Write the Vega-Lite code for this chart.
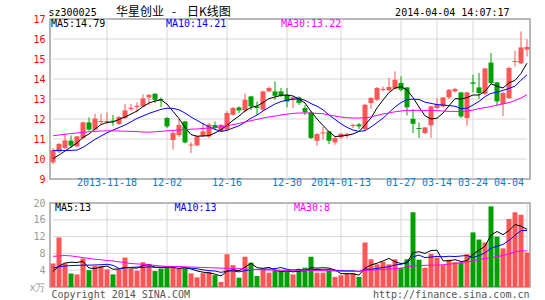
{
"$schema":"https://vega.github.io/schema/vega-lite/v6.json",
"autosize":{"type":"pad"},
"padding":{"left":28,"top":4,"right":4,"bottom":0},
"background":"white",
"bounds":"flush",
"spacing":24,
"data":{"values":[
{"d":"2013-11-05","o":9.83,"h":10.55,"l":9.75,"c":10.45,"v":5.6,"m5":10.02,"m10":10.43,"m30":11.16,"vm5":3.7,"vm10":4.5,"vm30":7.3},
{"d":"2013-11-06","o":10.38,"h":10.8,"l":10.3,"c":10.75,"v":11.8,"m5":10.2,"m10":10.43,"m30":11.2,"vm5":5.0,"vm10":4.8,"vm30":7.4},
{"d":"2013-11-07","o":10.55,"h":11.27,"l":10.5,"c":10.93,"v":5.6,"m5":10.4,"m10":10.43,"m30":11.24,"vm5":5.7,"vm10":5.0,"vm30":7.5},
{"d":"2013-11-08","o":10.92,"h":11.18,"l":10.55,"c":10.67,"v":3.2,"m5":10.6,"m10":10.43,"m30":11.27,"vm5":5.9,"vm10":5.1,"vm30":7.4},
{"d":"2013-11-11","o":10.63,"h":11.15,"l":10.58,"c":11.13,"v":3.0,"m5":10.8,"m10":10.45,"m30":11.3,"vm5":5.84,"vm10":5.15,"vm30":7.2},
{"d":"2013-11-12","o":11.05,"h":11.88,"l":10.98,"c":11.83,"v":6.8,"m5":11.08,"m10":10.58,"m30":11.33,"vm5":6.08,"vm10":5.2,"vm30":7.0},
{"d":"2013-11-13","o":11.83,"h":12.08,"l":11.42,"c":11.47,"v":4.0,"m5":11.25,"m10":10.78,"m30":11.36,"vm5":4.52,"vm10":5.2,"vm30":6.8},
{"d":"2013-11-14","o":11.47,"h":12.26,"l":11.42,"c":12.02,"v":5.0,"m5":11.5,"m10":10.98,"m30":11.38,"vm5":4.4,"vm10":5.25,"vm30":6.6},
{"d":"2013-11-15","o":11.85,"h":12.26,"l":11.75,"c":11.9,"v":5.0,"m5":11.72,"m10":11.15,"m30":11.4,"vm5":4.76,"vm10":5.3,"vm30":6.5},
{"d":"2013-11-18","o":11.85,"h":12.33,"l":11.76,"c":11.9,"v":4.2,"m5":11.83,"m10":11.31,"m30":11.41,"vm5":5.0,"vm10":5.42,"vm30":6.3},
{"d":"2013-11-19","o":11.92,"h":12.2,"l":11.66,"c":11.87,"v":3.0,"m5":11.85,"m10":11.45,"m30":11.41,"vm5":4.24,"vm10":5.16,"vm30":6.2},
{"d":"2013-11-20","o":11.75,"h":12.15,"l":11.7,"c":12.1,"v":4.2,"m5":11.98,"m10":11.57,"m30":11.4,"vm5":4.28,"vm10":4.4,"vm30":6.0},
{"d":"2013-11-21","o":12.05,"h":12.76,"l":12.0,"c":12.43,"v":7.0,"m5":12.1,"m10":11.7,"m30":11.39,"vm5":4.68,"vm10":4.54,"vm30":5.8},
{"d":"2013-11-22","o":12.5,"h":12.76,"l":12.4,"c":12.56,"v":4.4,"m5":12.25,"m10":11.86,"m30":11.38,"vm5":4.56,"vm10":4.66,"vm30":5.6},
{"d":"2013-11-25","o":12.6,"h":12.83,"l":12.33,"c":12.66,"v":3.9,"m5":12.4,"m10":12.03,"m30":11.37,"vm5":4.5,"vm10":4.75,"vm30":5.5},
{"d":"2013-11-26","o":12.63,"h":13.23,"l":12.6,"c":13.03,"v":5.9,"m5":12.62,"m10":12.15,"m30":11.35,"vm5":5.08,"vm10":4.66,"vm30":5.4},
{"d":"2013-11-27","o":13.08,"h":13.22,"l":12.7,"c":13.21,"v":5.5,"m5":12.8,"m10":12.28,"m30":11.34,"vm5":5.34,"vm10":4.81,"vm30":5.25},
{"d":"2013-11-28","o":13.26,"h":13.3,"l":12.8,"c":12.96,"v":3.8,"m5":12.9,"m10":12.38,"m30":11.36,"vm5":4.7,"vm10":4.69,"vm30":5.15},
{"d":"2013-11-29","o":13.0,"h":13.08,"l":12.6,"c":12.95,"v":4.4,"m5":12.96,"m10":12.48,"m30":11.38,"vm5":4.7,"vm10":4.63,"vm30":5.0},
{"d":"2013-12-02","o":12.05,"h":12.1,"l":11.55,"c":11.63,"v":4.7,"m5":12.75,"m10":12.54,"m30":11.41,"vm5":4.86,"vm10":4.68,"vm30":4.9},
{"d":"2013-12-03","o":10.95,"h":11.4,"l":10.47,"c":11.3,"v":4.8,"m5":12.38,"m10":12.53,"m30":11.43,"vm5":4.64,"vm10":4.86,"vm30":4.9},
{"d":"2013-12-04","o":11.2,"h":12.0,"l":11.1,"c":11.7,"v":4.4,"m5":12.02,"m10":12.46,"m30":11.45,"vm5":4.42,"vm10":4.88,"vm30":4.85},
{"d":"2013-12-05","o":11.88,"h":11.9,"l":10.78,"c":10.83,"v":4.4,"m5":11.58,"m10":12.3,"m30":11.47,"vm5":4.54,"vm10":4.62,"vm30":4.8},
{"d":"2013-12-06","o":10.67,"h":10.85,"l":10.3,"c":10.72,"v":3.25,"m5":11.22,"m10":12.1,"m30":11.49,"vm5":4.31,"vm10":4.5,"vm30":4.75},
{"d":"2013-12-09","o":10.68,"h":11.15,"l":10.65,"c":11.13,"v":2.3,"m5":11.14,"m10":11.93,"m30":11.5,"vm5":3.83,"vm10":4.35,"vm30":4.7},
{"d":"2013-12-10","o":11.15,"h":11.83,"l":11.1,"c":11.38,"v":3.3,"m5":11.15,"m10":11.76,"m30":11.53,"vm5":3.53,"vm10":4.09,"vm30":4.65},
{"d":"2013-12-11","o":11.13,"h":11.8,"l":11.05,"c":11.72,"v":3.6,"m5":11.17,"m10":11.6,"m30":11.55,"vm5":3.37,"vm10":3.9,"vm30":4.6},
{"d":"2013-12-12","o":11.7,"h":11.88,"l":11.45,"c":11.55,"v":2.8,"m5":11.3,"m10":11.48,"m30":11.57,"vm5":3.05,"vm10":3.8,"vm30":4.55},
{"d":"2013-12-13","o":11.38,"h":11.75,"l":11.35,"c":11.71,"v":1.2,"m5":11.47,"m10":11.38,"m30":11.62,"vm5":2.64,"vm10":3.48,"vm30":4.5},
{"d":"2013-12-16","o":11.46,"h":12.4,"l":11.42,"c":12.3,"v":7.8,"m5":11.68,"m10":11.43,"m30":11.66,"vm5":3.74,"vm10":3.79,"vm30":4.45},
{"d":"2013-12-17","o":12.21,"h":12.6,"l":12.18,"c":12.55,"v":5.2,"m5":11.93,"m10":11.55,"m30":11.72,"vm5":4.12,"vm10":3.83,"vm30":4.4},
{"d":"2013-12-18","o":12.58,"h":12.63,"l":12.3,"c":12.43,"v":2.2,"m5":12.15,"m10":11.66,"m30":11.78,"vm5":3.84,"vm10":3.6,"vm30":4.35},
{"d":"2013-12-19","o":12.43,"h":13.26,"l":12.33,"c":12.96,"v":7.2,"m5":12.4,"m10":11.84,"m30":11.85,"vm5":4.72,"vm10":3.89,"vm30":4.3},
{"d":"2013-12-20","o":13.13,"h":13.16,"l":12.45,"c":12.63,"v":5.8,"m5":12.58,"m10":12.04,"m30":11.92,"vm5":5.64,"vm10":4.14,"vm30":4.2},
{"d":"2013-12-23","o":12.63,"h":12.88,"l":12.2,"c":12.55,"v":2.6,"m5":12.65,"m10":12.2,"m30":11.98,"vm5":4.6,"vm10":4.17,"vm30":4.15},
{"d":"2013-12-24","o":12.46,"h":13.4,"l":12.4,"c":13.38,"v":4.4,"m5":12.82,"m10":12.4,"m30":12.05,"vm5":4.44,"vm10":4.28,"vm30":4.1},
{"d":"2013-12-25","o":13.38,"h":13.63,"l":13.35,"c":13.55,"v":3.4,"m5":13.02,"m10":12.58,"m30":12.1,"vm5":4.68,"vm10":4.26,"vm30":4.05},
{"d":"2013-12-26","o":13.38,"h":13.88,"l":12.96,"c":13.16,"v":4.0,"m5":13.1,"m10":12.75,"m30":12.15,"vm5":4.04,"vm10":4.38,"vm30":4.0},
{"d":"2013-12-27","o":13.38,"h":13.55,"l":13.1,"c":13.16,"v":3.7,"m5":13.18,"m10":12.87,"m30":12.2,"vm5":3.62,"vm10":4.63,"vm30":4.0},
{"d":"2013-12-30","o":13.21,"h":13.55,"l":12.58,"c":12.88,"v":3.9,"m5":13.2,"m10":12.94,"m30":12.24,"vm5":3.88,"vm10":4.24,"vm30":4.0},
{"d":"2013-12-31","o":12.96,"h":13.1,"l":12.55,"c":13.08,"v":3.0,"m5":13.15,"m10":12.99,"m30":12.28,"vm5":3.6,"vm10":4.02,"vm30":4.0},
{"d":"2014-01-02","o":13.08,"h":13.13,"l":12.7,"c":12.8,"v":4.3,"m5":13.0,"m10":13.01,"m30":12.3,"vm5":3.78,"vm10":4.23,"vm30":4.0},
{"d":"2014-01-03","o":12.55,"h":12.7,"l":12.2,"c":12.33,"v":4.6,"m5":12.8,"m10":12.94,"m30":12.3,"vm5":3.9,"vm10":3.97,"vm30":4.0},
{"d":"2014-01-06","o":12.33,"h":12.4,"l":11.0,"c":11.05,"v":7.2,"m5":12.38,"m10":12.77,"m30":12.3,"vm5":4.6,"vm10":4.11,"vm30":3.95},
{"d":"2014-01-07","o":10.91,"h":11.3,"l":10.66,"c":11.25,"v":3.4,"m5":12.0,"m10":12.64,"m30":12.28,"vm5":4.5,"vm10":4.19,"vm30":3.9},
{"d":"2014-01-08","o":11.28,"h":11.6,"l":10.96,"c":11.33,"v":3.4,"m5":11.68,"m10":12.46,"m30":12.26,"vm5":4.58,"vm10":4.09,"vm30":3.9},
{"d":"2014-01-09","o":11.38,"h":11.41,"l":10.75,"c":10.91,"v":3.9,"m5":11.36,"m10":12.2,"m30":12.2,"vm5":4.5,"vm10":4.14,"vm30":3.85},
{"d":"2014-01-10","o":10.83,"h":11.1,"l":10.71,"c":11.05,"v":2.4,"m5":11.12,"m10":11.98,"m30":12.15,"vm5":4.06,"vm10":3.98,"vm30":3.8},
{"d":"2014-01-13","o":11.08,"h":11.3,"l":11.0,"c":11.26,"v":2.8,"m5":11.15,"m10":11.76,"m30":12.1,"vm5":3.18,"vm10":3.89,"vm30":3.75},
{"d":"2014-01-14","o":11.2,"h":11.33,"l":11.05,"c":11.25,"v":3.3,"m5":11.18,"m10":11.58,"m30":12.06,"vm5":3.16,"vm10":3.83,"vm30":3.7},
{"d":"2014-01-15","o":11.65,"h":11.76,"l":11.55,"c":11.7,"v":3.3,"m5":11.25,"m10":11.45,"m30":12.05,"vm5":3.14,"vm10":3.86,"vm30":3.7},
{"d":"2014-01-16","o":11.73,"h":11.8,"l":11.5,"c":11.63,"v":2.4,"m5":11.38,"m10":11.38,"m30":12.05,"vm5":2.84,"vm10":3.67,"vm30":3.75},
{"d":"2014-01-17","o":11.5,"h":12.75,"l":11.4,"c":12.71,"v":10.6,"m5":11.7,"m10":11.42,"m30":12.06,"vm5":4.48,"vm10":4.27,"vm30":3.9},
{"d":"2014-01-20","o":12.8,"h":13.1,"l":12.5,"c":13.05,"v":6.6,"m5":12.05,"m10":11.6,"m30":12.1,"vm5":5.24,"vm10":4.21,"vm30":4.0},
{"d":"2014-01-21","o":12.96,"h":13.6,"l":12.9,"c":13.55,"v":5.4,"m5":12.55,"m10":11.82,"m30":12.18,"vm5":5.66,"vm10":4.41,"vm30":4.1},
{"d":"2014-01-22","o":13.45,"h":13.63,"l":13.38,"c":13.5,"v":6.0,"m5":12.95,"m10":12.04,"m30":12.25,"vm5":6.2,"vm10":4.67,"vm30":4.2},
{"d":"2014-01-23","o":13.43,"h":14.05,"l":13.4,"c":13.6,"v":5.4,"m5":13.32,"m10":12.32,"m30":12.3,"vm5":6.8,"vm10":4.82,"vm30":4.3},
{"d":"2014-01-24","o":13.51,"h":14.38,"l":13.5,"c":13.96,"v":6.6,"m5":13.55,"m10":12.6,"m30":12.36,"vm5":6.0,"vm10":5.24,"vm30":4.4},
{"d":"2014-01-27","o":13.8,"h":14.13,"l":13.38,"c":13.46,"v":4.5,"m5":13.62,"m10":12.82,"m30":12.4,"vm5":5.58,"vm10":5.41,"vm30":4.5},
{"d":"2014-01-28","o":13.58,"h":13.6,"l":12.18,"c":12.58,"v":6.6,"m5":13.45,"m10":12.97,"m30":12.43,"vm5":5.82,"vm10":5.74,"vm30":4.75},
{"d":"2014-01-29","o":12.01,"h":12.5,"l":11.3,"c":11.76,"v":17.8,"m5":13.07,"m10":12.99,"m30":12.43,"vm5":8.18,"vm10":7.19,"vm30":5.0},
{"d":"2014-01-30","o":11.55,"h":11.83,"l":11.05,"c":11.5,"v":6.5,"m5":12.6,"m10":12.98,"m30":12.43,"vm5":8.4,"vm10":7.6,"vm30":5.1},
{"d":"2014-03-12","o":11.3,"h":11.6,"l":11.25,"c":11.58,"v":4.6,"m5":12.16,"m10":12.84,"m30":12.43,"vm5":8.0,"vm10":7.0,"vm30":5.15},
{"d":"2014-03-13","o":11.68,"h":12.65,"l":11.05,"c":12.63,"v":7.9,"m5":12.0,"m10":12.78,"m30":12.43,"vm5":8.68,"vm10":7.13,"vm30":5.2},
{"d":"2014-03-14","o":12.55,"h":13.05,"l":12.5,"c":12.71,"v":7.0,"m5":12.04,"m10":12.72,"m30":12.42,"vm5":8.76,"vm10":7.29,"vm30":5.2},
{"d":"2014-03-17","o":12.63,"h":13.1,"l":12.6,"c":13.08,"v":5.2,"m5":12.3,"m10":12.7,"m30":12.4,"vm5":6.24,"vm10":7.21,"vm30":5.3},
{"d":"2014-03-18","o":13.08,"h":13.5,"l":13.0,"c":13.46,"v":6.5,"m5":12.66,"m10":12.67,"m30":12.38,"vm5":6.24,"vm10":7.32,"vm30":5.45},
{"d":"2014-03-19","o":13.38,"h":13.55,"l":13.33,"c":13.5,"v":5.9,"m5":13.02,"m10":12.64,"m30":12.38,"vm5":6.5,"vm10":7.25,"vm30":5.6},
{"d":"2014-03-20","o":13.33,"h":13.35,"l":12.05,"c":12.13,"v":5.8,"m5":13.0,"m10":12.52,"m30":12.38,"vm5":6.08,"vm10":7.38,"vm30":5.8},
{"d":"2014-03-21","o":12.05,"h":13.35,"l":11.66,"c":13.33,"v":7.8,"m5":13.07,"m10":12.54,"m30":12.4,"vm5":6.24,"vm10":7.5,"vm30":6.0},
{"d":"2014-03-24","o":13.83,"h":14.21,"l":13.33,"c":13.76,"v":13.0,"m5":13.2,"m10":12.7,"m30":12.45,"vm5":7.8,"vm10":7.02,"vm30":6.2},
{"d":"2014-03-25","o":13.58,"h":14.3,"l":13.0,"c":13.3,"v":11.3,"m5":13.2,"m10":12.88,"m30":12.52,"vm5":8.76,"vm10":7.5,"vm30":6.5},
{"d":"2014-03-26","o":13.26,"h":14.55,"l":13.2,"c":14.53,"v":10.6,"m5":13.38,"m10":13.12,"m30":12.57,"vm5":9.7,"vm10":8.1,"vm30":6.8},
{"d":"2014-03-27","o":14.82,"h":15.3,"l":13.75,"c":13.8,"v":19.2,"m5":13.76,"m10":13.28,"m30":12.62,"vm5":12.38,"vm10":9.23,"vm30":7.0},
{"d":"2014-03-28","o":13.83,"h":13.85,"l":12.63,"c":12.88,"v":12.0,"m5":13.64,"m10":13.34,"m30":12.7,"vm5":13.22,"vm10":9.73,"vm30":7.2},
{"d":"2014-03-31","o":12.75,"h":13.35,"l":12.15,"c":13.3,"v":9.2,"m5":13.55,"m10":13.43,"m30":12.75,"vm5":12.46,"vm10":10.13,"vm30":7.5},
{"d":"2014-04-01","o":13.05,"h":14.62,"l":13.0,"c":14.55,"v":16.2,"m5":13.81,"m10":13.53,"m30":12.82,"vm5":13.44,"vm10":11.1,"vm30":7.9},
{"d":"2014-04-02","o":14.85,"h":15.42,"l":14.63,"c":14.9,"v":17.8,"m5":13.93,"m10":13.64,"m30":12.92,"vm5":14.88,"vm10":12.29,"vm30":8.4},
{"d":"2014-04-03","o":14.78,"h":16.38,"l":14.75,"c":15.58,"v":17.2,"m5":14.28,"m10":13.94,"m30":13.05,"vm5":14.48,"vm10":13.43,"vm30":8.6},
{"d":"2014-04-04","o":15.47,"h":16.0,"l":15.13,"c":15.6,"v":8.2,"m5":14.79,"m10":14.21,"m30":13.22,"vm5":13.72,"vm10":13.47,"vm30":8.6}
]},
"resolve":{"scale":{"color":"independent","y":"independent"},"legend":{"color":"independent"}},
"config":{
 "view":{"stroke":"#a0a0a0","strokeWidth":1.5},
 "axis":{"labelFont":"DejaVu Sans Mono","labelFontSize":10,"titleFont":"DejaVu Sans Mono","titleFontSize":10,"titleFontWeight":"normal","titleColor":"#000000","tickSize":0,"domain":false,"grid":false,"labelOverlap":false},
 "legend":{"labelFont":"DejaVu Sans Mono","labelFontSize":10}
},
"vconcat":[
{
 "width":480,"height":160,
 "title":{"text":"华星创业\u00a0\u00a0\u00a0-\u00a0\u00a0\u00a0\u00a0日K线图","anchor":"start","frame":"group","dx":66,"offset":-23,"baseline":"bottom","font":"Noto Sans CJK SC","fontSize":12,"fontWeight":"normal","color":"#000000"},
 "layer":[
  {"data":{"values":[{"g":10},{"g":11},{"g":12},{"g":13},{"g":14},{"g":15},{"g":16}]},
   "mark":{"type":"rule","color":"#d8d8d8","strokeWidth":1},
   "encoding":{
    "x":{"datum":"2013-11-05","type":"ordinal"},
    "x2":{"datum":"2014-04-04"},
    "y":{"field":"g","type":"quantitative","axis":{"values":[9,10,11,12,13,14,15,16,17],"tickCount":20,"format":"d","labelColor":"#ff0000","labelPadding":5,"labelOverlap":false,"grid":false,
          "title":"sz300025","titleAngle":0,"titleAlign":"left","titleBaseline":"alphabetic","titleX":-2,"titleY":-3.5}}}},
  {"encoding":{
    "x":{"field":"d","type":"ordinal","scale":{"paddingInner":0,"paddingOuter":0},
     "axis":{"values":["2013-11-18","2013-12-02","2013-12-16","2013-12-30","2014-01-13","2014-01-27","2014-03-14","2014-03-24","2014-04-04"],
      "labelExpr":"datum.value == '2013-11-18' || datum.value == '2014-01-13' ? datum.value : substring(datum.value, 5)",
      "labelAngle":0,"labelColor":"#0c7cd0","labelPadding":3.5,"labelOverlap":false,"grid":false,
      "labelAlign":{"condition":{"test":"datum.value == '2014-04-04'","value":"right"},"value":"center"},
      "labelOffset":{"condition":{"test":"datum.value == '2014-04-04'","value":-3},"value":0},
      "title":"2014-04-04 14:07:17","titleX":459,"titleY":-163.5,"titleAlign":"right","titleBaseline":"alphabetic","titleAngle":0}}},
   "layer":[
    {"data":{"values":[{"d":"2013-11-18"},{"d":"2013-12-02"},{"d":"2013-12-16"},{"d":"2013-12-30"},{"d":"2014-01-13"},{"d":"2014-01-27"},{"d":"2014-03-14"},{"d":"2014-03-24"}]},
     "mark":{"type":"rule","color":"#d8d8d8","strokeWidth":1},
     "encoding":{"y":{"datum":9,"type":"quantitative"},"y2":{"datum":17}}},
    {"mark":{"type":"rule","strokeWidth":1},
     "encoding":{
      "y":{"field":"l","type":"quantitative","scale":{"domain":[9,17],"nice":false,"zero":false},
        "axis":{"values":[9,10,11,12,13,14,15,16,17],"tickCount":20,"format":"d","labelColor":"#ff0000","labelPadding":5,"labelOverlap":false,"grid":false,
          "title":"sz300025","titleAngle":0,"titleAlign":"left","titleBaseline":"alphabetic","titleX":-2,"titleY":-3.5}},
      "y2":{"field":"h"},
      "color":{"condition":{"test":"datum.c >= datum.o","value":"#ff5555"},"value":"#00a000"}}},
    {"mark":{"type":"bar","size":5},
     "encoding":{
      "y":{"field":"o","type":"quantitative"},
      "y2":{"field":"c"},
      "color":{"condition":{"test":"datum.c >= datum.o","value":"#ff5555"},"value":"#00a000"}}},
    {"transform":[{"fold":["m5","m10","m30"],"as":["k","val"]}],
     "mark":{"type":"line","strokeWidth":1},
     "encoding":{
      "y":{"field":"val","type":"quantitative"},
      "color":{"field":"k","type":"nominal","scale":{"domain":["m5","m10","m30"],"range":["#000000","#0000ff","#ff00ff"]},
        "legend":{"orient":"top-left","offset":0,"padding":0,"direction":"horizontal","title":null,"gridAlign":"all","columnPadding":53,
          "labelExpr":"datum.value == 'm5' ? 'MA5:14.79' : datum.value == 'm10' ? 'MA10:14.21' : 'MA30:13.22'",
          "symbolSize":0,"symbolStrokeWidth":0,"symbolOpacity":0,"labelOffset":-9,
          "encode":{"labels":{"update":{"fill":{"signal":"datum.value == 'm5' ? '#000000' : datum.value == 'm10' ? '#0000ff' : '#ff00ff'"}}}}}}}}
   ]}
 ]
},
{
 "width":480,"height":84,
 "layer":[
  {"data":{"values":[{"g":4},{"g":8},{"g":12},{"g":16}]},
   "mark":{"type":"rule","color":"#d8d8d8","strokeWidth":1},
   "encoding":{
    "x":{"datum":"2013-11-05","type":"ordinal"},
    "x2":{"datum":"2014-04-04"},
    "y":{"field":"g","type":"quantitative","axis":{"values":[0,4,8,12,16,20],"tickCount":20,"format":"d","labelExpr":"datum.value == 0 ? 'x万' : datum.label","labelColor":"#999999","labelPadding":5,"labelOverlap":false,"grid":false,
          "title":"Copyright 2014 SINA.COM","titleColor":"#555555","titleAngle":0,"titleAlign":"left","titleBaseline":"middle","titleX":1,"titleY":91}}}},
  {"encoding":{
    "x":{"field":"d","type":"ordinal","scale":{"paddingInner":0,"paddingOuter":0},
     "axis":{"labels":false,"grid":false,
      "title":"http://finance.sina.com.cn","titleColor":"#555555","titleX":479,"titleY":7,"titleAlign":"right","titleBaseline":"middle","titleAngle":0}}},
   "layer":[
    {"data":{"values":[{"d":"2013-11-18"},{"d":"2013-12-02"},{"d":"2013-12-16"},{"d":"2013-12-30"},{"d":"2014-01-13"},{"d":"2014-01-27"},{"d":"2014-03-14"},{"d":"2014-03-24"},{"d":"2014-04-04"}]},
     "mark":{"type":"rule","color":"#d8d8d8","strokeWidth":1},
     "encoding":{"y":{"datum":0,"type":"quantitative"},"y2":{"datum":20}}},
    {"mark":{"type":"bar","size":5},
     "encoding":{
      "y":{"field":"v","type":"quantitative","scale":{"domain":[0,20],"nice":false},
        "axis":{"values":[0,4,8,12,16,20],"tickCount":20,"format":"d","labelExpr":"datum.value == 0 ? 'x万' : datum.label","labelColor":"#999999","labelPadding":5,"labelOverlap":false,"grid":false,
          "title":"Copyright 2014 SINA.COM","titleColor":"#555555","titleAngle":0,"titleAlign":"left","titleBaseline":"middle","titleX":1,"titleY":91}},
      "color":{"condition":{"test":"datum.c >= datum.o","value":"#ff5555"},"value":"#00a000"}}},
    {"transform":[{"fold":["vm5","vm10","vm30"],"as":["k","val"]}],
     "mark":{"type":"line","strokeWidth":1},
     "encoding":{
      "y":{"field":"val","type":"quantitative"},
      "color":{"field":"k","type":"nominal","scale":{"domain":["vm5","vm10","vm30"],"range":["#000000","#0000ff","#ff00ff"]},
        "legend":{"orient":"top-left","offset":0,"padding":0,"direction":"horizontal","title":null,"gridAlign":"all","columnPadding":71.5,
          "labelExpr":"datum.value == 'vm5' ? 'MA5:13' : datum.value == 'vm10' ? 'MA10:13' : 'MA30:8'",
          "symbolSize":0,"symbolStrokeWidth":0,"symbolOpacity":0,"labelOffset":-5,
          "encode":{"labels":{"update":{"fill":{"signal":"datum.value == 'vm5' ? '#000000' : datum.value == 'vm10' ? '#0000ff' : '#ff00ff'"}}}}}}}}
   ]}
 ]
}
]
}
